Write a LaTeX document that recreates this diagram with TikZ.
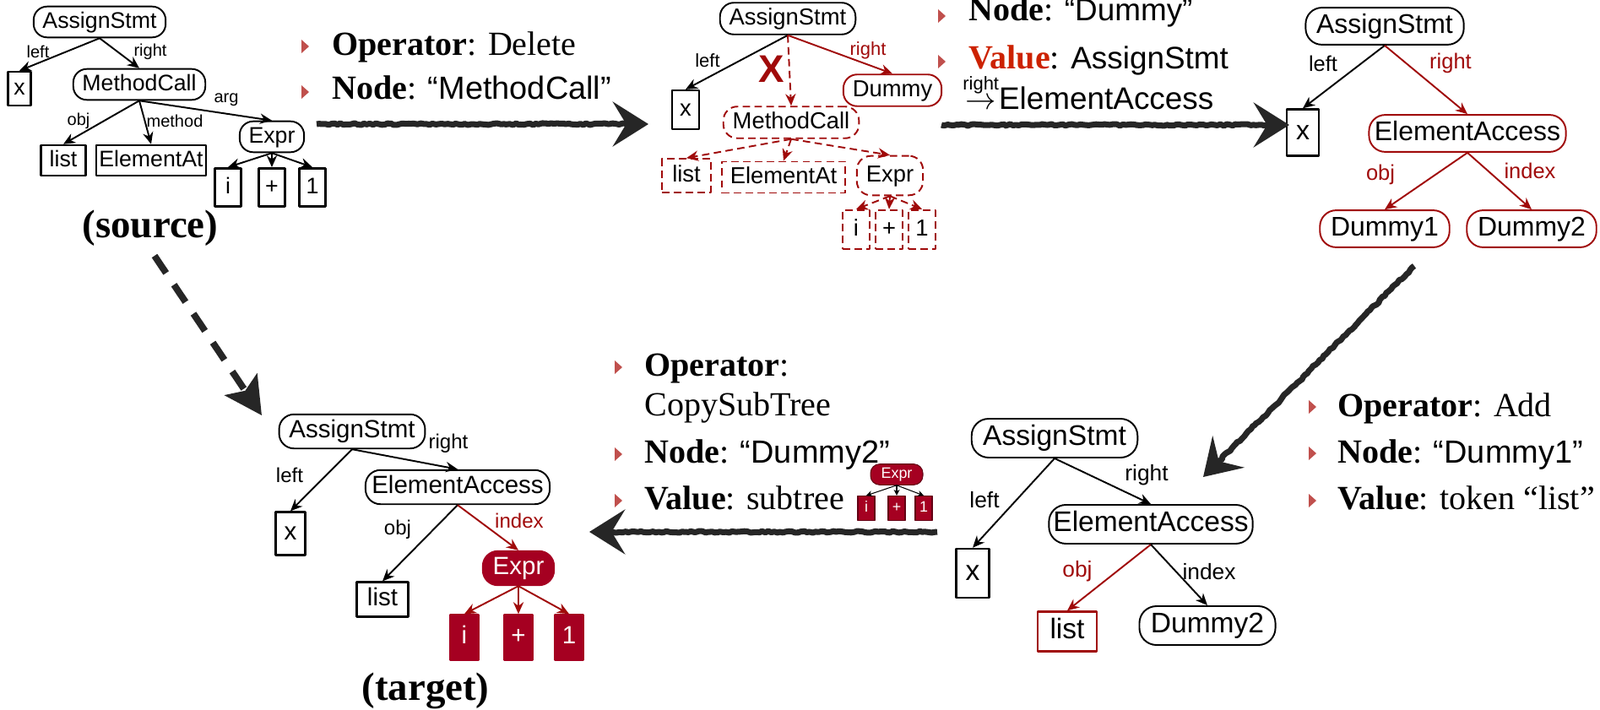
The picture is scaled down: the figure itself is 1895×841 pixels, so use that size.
\documentclass[tikz,border=0pt]{standalone}
\usepackage{fontspec}
\setmainfont{Liberation Serif}
\setsansfont{Liberation Sans}
\usetikzlibrary{arrows.meta,decorations.pathmorphing}

\definecolor{treered}{RGB}{160,10,10}
\definecolor{fillred}{RGB}{165,0,33}
\definecolor{bulletred}{RGB}{192,80,77}
\definecolor{valred}{RGB}{204,34,0}

\newcommand{\fsz}[1]{\fontsize{#1}{#1}\selectfont}

\tikzset{
  pill/.style={draw, rectangle, rounded corners=.6em, line width=1.1pt, inner xsep=.4em, inner ysep=.2em, text height=.75em, text depth=.22em},
  leaf/.style={draw, rectangle, line width=1.4pt, inner xsep=.12em, inner ysep=.1em, minimum height=1.35em, text height=.75em, text depth=.22em},
  tok/.style={leaf, minimum width=1.16em, minimum height=1.7em},
  link/.style={line width=1.1pt, -{Stealth[length=8pt, width=7pt]}},
  gone/.style={draw=treered, line width=1.1pt, dash pattern=on 5pt off 3pt},
  txt/.style={font=\fsz{22.8}, anchor=base west, inner sep=0pt},
  sketch/.style={line width=4pt, draw=black!85, decorate, decoration={random steps, segment length=2pt, amplitude=.6pt, post length=12pt}, -{Stealth[length=24pt, width=30pt, inset=9pt]}},
  bigdash/.style={line width=4.5pt, draw=black!85, dash pattern=on 14pt off 9.5pt, -{Stealth[length=25pt, width=26pt, inset=5pt]}}
}

\begin{document}
\begin{tikzpicture}[x=0.02cm, y=-0.02cm, line join=round]
  \useasboundingbox (0,0) rectangle (1895,841);

  % source tree
  \begin{scope}[lbl/.style={font=\fsz{11.4}}]
    \sffamily\fsz{15.2}
    \node[pill] (s-as) at (118,26) {AssignStmt};
    \node[leaf, minimum width=1em, minimum height=1.5em] (s-x) at (23,105) {x};
    \node[pill] (s-mc) at (165,100) {MethodCall};
    \node[leaf, minimum width=2em] (s-list) at (75,190) {list};
    \node[leaf] (s-ea) at (179,190) {ElementAt};
    \node[pill] (s-expr) at (322,162) {Expr};
    \node[tok] (s-i) at (270,222) {i};
    \node[tok] (s-plus) at (322,222) {+};
    \node[tok] (s-one) at (370,222) {1};
    \node[lbl] (s-l1) at (45,61) {left};
    \node[lbl] (s-l2) at (178,61) {right};
    \node[lbl] (s-l3) at (93,143) {obj};
    \node[lbl] (s-l4) at (207,143) {method};
    \node[lbl] (s-l5) at (268,118) {arg};
    \draw[link] (s-as.south) -- (s-x.north);
    \draw[link] (s-as.south) -- (s-mc.north);
    \draw[link] (s-mc.south) -- (s-list.north);
    \draw[link] (s-mc.south) -- (s-ea.north);
    \draw[link] (s-mc.south) -- (s-expr.north);
    \draw[link] (s-expr.south) -- (s-i.north);
    \draw[link] (s-expr.south) -- (s-plus.north);
    \draw[link] (s-expr.south) -- (s-one.north);
  \end{scope}
  \node[font=\bfseries\fsz{26.7}] (src) at (178,270) {(source)};

  % delete step
  \begin{scope}[lbl/.style={font=\fsz{12.5}}]
    \sffamily\fsz{15.6}
    \node[pill] (m-as) at (933,22) {AssignStmt};
    \node[leaf, minimum width=1.16em, minimum height=1.67em] (m-x) at (812,130) {x};
    \node[pill, draw=treered] (m-dummy) at (1057,107) {Dummy};
    \node[pill, gone] (m-mc) at (937,145) {MethodCall};
    \node[leaf, gone, minimum width=2.1em, minimum height=1.45em] (m-list) at (813,208) {list};
    \node[leaf, gone, inner xsep=.36em] (m-ea) at (928,210) {ElementAt};
    \node[pill, gone, minimum height=1.7em] (m-expr) at (1054,208) {Expr};
    \node[tok, gone] (m-i) at (1014,272) {i};
    \node[tok, gone] (m-plus) at (1053,272) {+};
    \node[tok, gone] (m-one) at (1092,272) {1};
    \node[lbl] (m-l1) at (838,72) {left};
    \node[lbl, text=treered] (m-l2) at (1028,60) {right};
    \node[text=treered, font=\bfseries\fsz{26}, inner sep=0pt] (m-cross) at (914,82) {X};
    \draw[link] (m-as.south) -- (m-x.north);
    \draw[link, treered] (m-as.south) -- (m-dummy.north);
    \draw[link, gone] (m-as.south) -- (m-mc.north);
    \draw[link, gone] (m-mc.south) -- (m-list.north);
    \draw[link, gone] (m-mc.south) -- (m-ea.north);
    \draw[link, gone] (m-mc.south) -- (m-expr.north);
    \draw[link, gone] (m-expr.south) -- (m-i.north);
    \draw[link, gone] (m-expr.south) -- (m-plus.north);
    \draw[link, gone] (m-expr.south) -- (m-one.north);
  \end{scope}

  % add ElementAccess
  \begin{scope}[lbl/.style={font=\fsz{14.5}}]
    \sffamily\fsz{18.2}
    \node[pill] (r-as) at (1640,31) {AssignStmt};
    \node[leaf, minimum width=1.19em, minimum height=1.72em] (r-x) at (1543,157) {x};
    \node[pill, draw=treered, inner xsep=.2em] (r-ea) at (1738,158) {ElementAccess};
    \node[pill, draw=treered] (r-d1) at (1640,271) {Dummy1};
    \node[pill, draw=treered] (r-d2) at (1814,271) {Dummy2};
    \node[lbl] (r-l1) at (1567,75) {left};
    \node[lbl, text=treered] (r-l2) at (1718,75) {right};
    \node[lbl, text=treered] (r-l3) at (1635,207) {obj};
    \node[lbl, text=treered] (r-l4) at (1812,202) {index};
    \draw[link] (r-as.south) -- (r-x.north);
    \draw[link, treered] (r-as.south) -- (r-ea.north);
    \draw[link, treered] (r-ea.south) -- (r-d1.north);
    \draw[link, treered] (r-ea.south) -- (r-d2.north);
  \end{scope}

  % add list token
  \begin{scope}[lbl/.style={font=\fsz{15}}]
    \sffamily\fsz{19.1}
    \node[pill] (b-as) at (1249,519) {AssignStmt};
    \node[leaf, minimum width=1.16em, minimum height=1.73em] (b-x) at (1152,679) {x};
    \node[pill, inner xsep=.15em] (b-ea) at (1363,621) {ElementAccess};
    \node[leaf, draw=treered, minimum width=2.1em, minimum height=1.4em] (b-list) at (1264,748) {list};
    \node[pill] (b-d2) at (1430,741) {Dummy2};
    \node[lbl] (b-l1) at (1166,592) {left};
    \node[lbl] (b-l2) at (1358,563) {right};
    \node[lbl, text=treered] (b-l3) at (1276,677) {obj};
    \node[lbl] (b-l4) at (1432,677) {index};
    \draw[link] (b-as.south) -- (b-x.north);
    \draw[link] (b-as.south) -- (b-ea.north);
    \draw[link, treered] (b-ea.south) -- (b-list.north);
    \draw[link] (b-ea.south) -- (b-d2.north);
  \end{scope}

  % target tree
  \begin{scope}[lbl/.style={font=\fsz{13.7}}]
    \sffamily\fsz{16.8}
    \node[pill] (t-as) at (417,511) {AssignStmt};
    \node[leaf, minimum width=1.18em, minimum height=1.72em] (t-x) at (344,632) {x};
    \node[pill, inner xsep=.25em] (t-ea) at (542,577) {ElementAccess};
    \node[leaf, minimum width=2.06em, minimum height=1.38em] (t-list) at (453,710) {list};
    \node[pill, fill=fillred, draw=fillred, text=white] (t-expr) at (614,673) {Expr};
    \node[tok, fill=fillred, draw=fillred, text=white, minimum height=1.8em] (t-i) at (550,755) {i};
    \node[tok, fill=fillred, draw=fillred, text=white, minimum height=1.8em] (t-plus) at (614,755) {+};
    \node[tok, fill=fillred, draw=fillred, text=white, minimum height=1.8em] (t-one) at (674,755) {1};
    \node[lbl] (t-l1) at (343,563) {left};
    \node[lbl] (t-l2) at (531,525) {right};
    \node[lbl] (t-l3) at (471,627) {obj};
    \node[lbl, text=treered] (t-l4) at (615,617) {index};
    \draw[link] (t-as.south) -- (t-x.north);
    \draw[link] (t-as.south) -- (t-ea.north);
    \draw[link] (t-ea.south) -- (t-list.north);
    \draw[link, treered] (t-ea.south) -- (t-expr.north);
    \draw[link, treered] (t-expr.south) -- (t-i.north);
    \draw[link, treered] (t-expr.south) -- (t-plus.north);
    \draw[link, treered] (t-expr.south) -- (t-one.north);
  \end{scope}
  \node[font=\bfseries\fsz{26.7}] (tgt) at (504,818) {(target)};

  % small subtree next to the value
  \begin{scope}
    \sffamily\fsz{10.2}
    \node[pill, fill=fillred, draw=fillred!60!black, line width=.6pt, text=white, inner xsep=.7em] (k-expr) at (1062,562) {Expr};
    \node[tok, fill=fillred, draw=fillred!60!black, line width=.8pt, text=white, minimum width=1.1em, minimum height=1.6em] (k-i) at (1026,602) {i};
    \node[tok, fill=fillred, draw=fillred!60!black, line width=.8pt, text=white, minimum width=1.1em, minimum height=1.6em] (k-plus) at (1062,602) {+};
    \node[tok, fill=fillred, draw=fillred!60!black, line width=.8pt, text=white, minimum width=1.1em, minimum height=1.6em] (k-one) at (1094,602) {1};
    \draw[link, line width=.6pt, -{Stealth[length=4pt, width=4pt]}] (k-expr.south) -- (k-i.north);
    \draw[link, line width=.6pt, -{Stealth[length=4pt, width=4pt]}] (k-expr.south) -- (k-plus.north);
    \draw[link, line width=.6pt, -{Stealth[length=4pt, width=4pt]}] (k-expr.south) -- (k-one.north);
  \end{scope}

  % edit operations
  \fill[bulletred] (357,47) -- (366,55) -- (357,63) -- cycle;
  \fill[bulletred] (357,101) -- (366,109) -- (357,117) -- cycle;
  \node[txt] (op1) at (393,66) {\textbf{Operator}: Delete};
  \node[txt] (nd1) at (393,118) {\textbf{Node}: {\sffamily\fsz{21.6}“MethodCall”}};

  \fill[bulletred] (1111,11) -- (1120,19) -- (1111,27) -- cycle;
  \fill[bulletred] (1111,65) -- (1120,73) -- (1111,81) -- cycle;
  \node[txt] (nd2) at (1147,25) {\textbf{Node}: {\sffamily\fsz{21}“Dummy”}};
  \node[txt] (vl2) at (1147,82) {\textbf{\textcolor{valred}{Value}}: {\sffamily\fsz{21}AssignStmt}};
  \node[txt] (vl2b) at (1140,130) {\sffamily\fsz{21}\shortstack{\fsz{12.5}right\\$\rightarrow$}ElementAccess};

  \fill[bulletred] (728,427) -- (737,435) -- (728,443) -- cycle;
  \fill[bulletred] (728,530) -- (737,538) -- (728,546) -- cycle;
  \fill[bulletred] (728,585) -- (737,593) -- (728,601) -- cycle;
  \node[txt] (op3) at (763,445) {\textbf{Operator}:};
  \node[txt] (cs3) at (763,492) {CopySubTree};
  \node[txt] (nd3) at (763,548) {\textbf{Node}: {\sffamily\fsz{21.6}“Dummy2”}};
  \node[txt] (vl3) at (763,603) {\textbf{Value}: subtree};

  \fill[bulletred] (1550,474) -- (1559,482) -- (1550,490) -- cycle;
  \fill[bulletred] (1550,529) -- (1559,537) -- (1550,545) -- cycle;
  \fill[bulletred] (1550,585) -- (1559,593) -- (1550,601) -- cycle;
  \node[txt] (op4) at (1584,493) {\textbf{Operator}: Add};
  \node[txt] (nd4) at (1584,548) {\textbf{Node}: {\sffamily\fsz{21.6}“Dummy1”}};
  \node[txt] (vl4) at (1584,603) {\textbf{Value}: token “list”};

  % step arrows
  \coordinate (a1s) at (375,147); \coordinate (a1e) at (768,147);
  \coordinate (a2s) at (1115,148); \coordinate (a2e) at (1527,148);
  \coordinate (a3s) at (1675,315); \coordinate (a3e) at (1425,565);
  \coordinate (a4s) at (1110,630); \coordinate (a4e) at (698,630);
  \coordinate (d1) at (183,303); \coordinate (d2) at (310,492);
  \draw[sketch] (a1s) -- (a1e);
  \draw[sketch] (a2s) -- (a2e);
  \draw[sketch] (a3s) -- (a3e);
  \draw[sketch] (a4s) -- (a4e);
  \draw[bigdash] (d1) -- (d2);
\end{tikzpicture}
\end{document}
